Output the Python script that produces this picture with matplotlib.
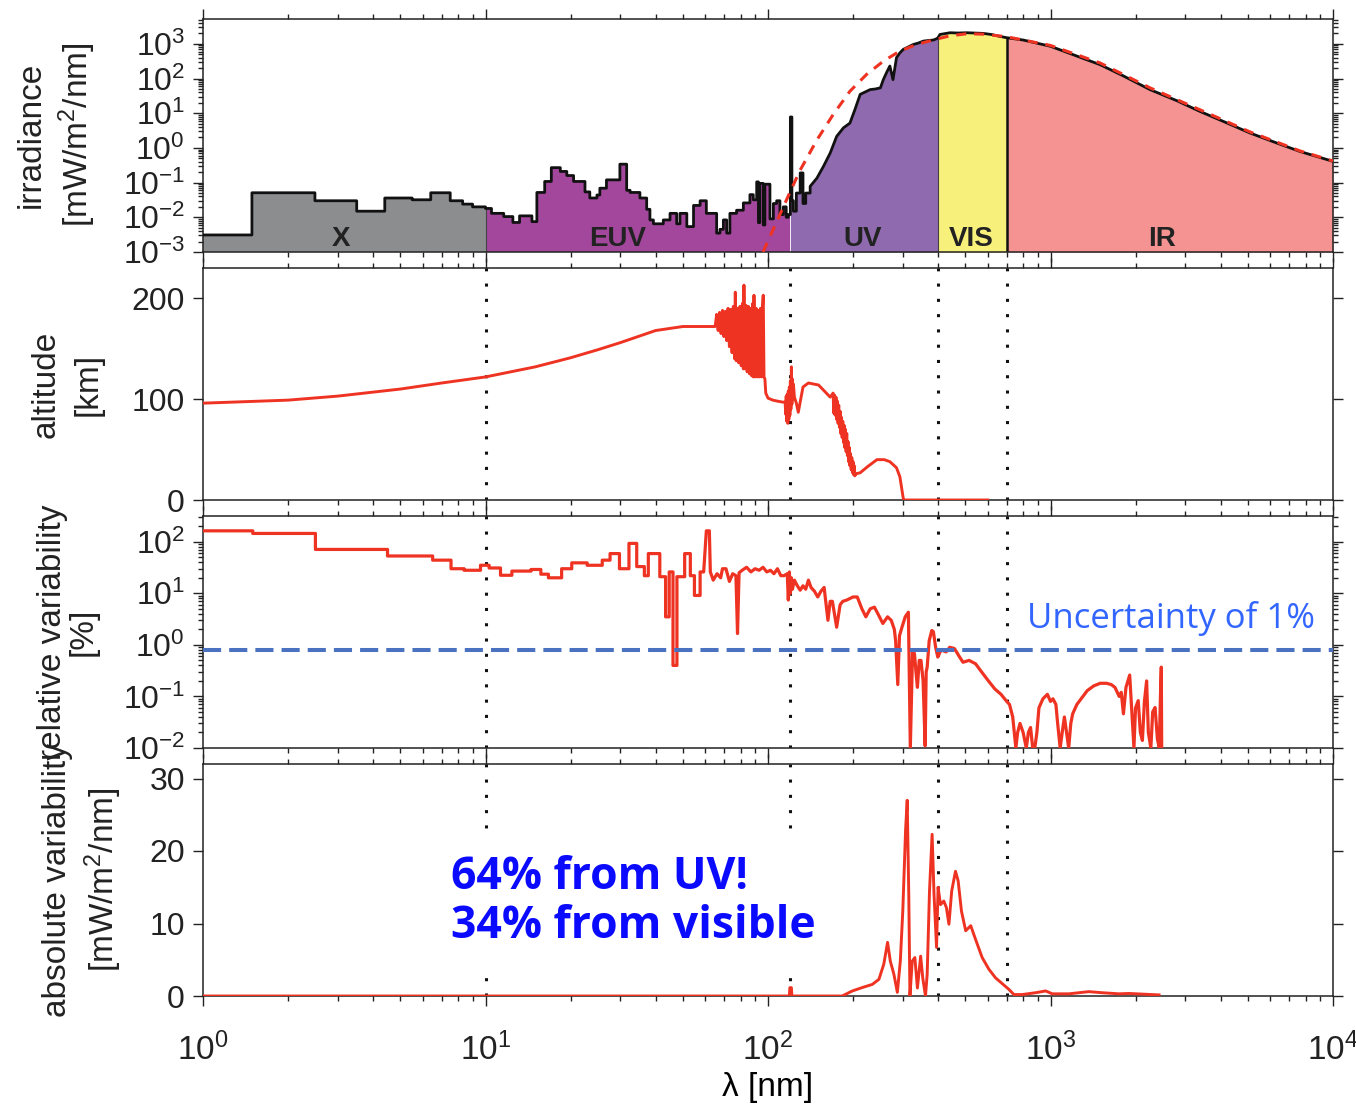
import numpy as np
import matplotlib
matplotlib.use("Agg")
import matplotlib.pyplot as plt
from matplotlib.ticker import LogLocator, NullFormatter, FixedLocator

plt.rcParams['font.family'] = ['Liberation Sans', 'DejaVu Sans']
plt.rcParams['mathtext.fontset'] = 'custom'
plt.rcParams['mathtext.rm'] = 'Liberation Sans'
plt.rcParams['mathtext.it'] = 'Liberation Sans:italic'
plt.rcParams['mathtext.bf'] = 'Liberation Sans:bold'

# ---------------- data ----------------
# spectral regions
region_names = ["X", "EUV", "UV", "VIS", "IR"]
region_edges = [1, 10, 120, 400, 700, 10000]
region_colors = ["#8c8d8f", "#a3479c", "#8f6aae", "#f7f17c", "#f59392"]
region_label_x = [3.08, 29.4, 217, 526, 2483]
boundaries = [10, 120, 400, 700]

# irradiance: X-ray bins (step)
xray_edges = [1, 1.49, 2.49, 3.5, 4.4, 5.5, 6.4, 7.5, 8.3, 9.0, 10]
xray_vals = [0.0031, 0.051, 0.030, 0.015, 0.036, 0.032, 0.051, 0.030, 0.024, 0.020]
# EUV bins (step)
euv1_edges = [10, 10.5, 11.6, 12.5, 13.2, 14.6, 15.2, 16.2, 17.1, 18.4, 19.4, 20.5, 22.5,
              23.4, 24.8, 25.4, 26.8, 29.9, 31.6, 32.5, 35.2, 37.2, 38.2]
euv1_vals = [0.018, 0.013, 0.0105, 0.0071, 0.011, 0.0075, 0.052, 0.108, 0.27, 0.21, 0.16,
             0.108, 0.054, 0.036, 0.044, 0.069, 0.12, 0.34, 0.06, 0.052, 0.036, 0.017]
euv2_edges = [38.2, 39.3, 42.6, 45, 47.5, 48.8, 51.6, 54.5, 57.5, 60.5, 65.8, 67.6, 69.5,
              71.4, 73.3, 77.4, 81.8, 86.3, 88.7, 91.2, 92.5, 93.5, 96.2, 97.5, 101.6,
              104.5, 107.3, 110.2, 113.3, 116, 118, 120, 121.5, 123, 126, 130, 133, 136, 141]
euv2_vals = [0.0084, 0.0065, 0.0084, 0.013, 0.0065, 0.013, 0.0054, 0.022, 0.03, 0.013,
             0.0035, 0.0045, 0.0084, 0.0035, 0.013, 0.016, 0.026, 0.045, 0.032, 0.105,
             0.007, 0.095, 0.006, 0.09, 0.009, 0.025, 0.03, 0.012, 0.02, 0.01, 0.012,
             7.8, 0.03, 0.015, 0.05, 0.19, 0.025, 0.05]
# UV / VIS / IR irradiance
uv_wl = [141, 149, 157, 166, 175, 185, 195, 203, 212, 222, 230, 240, 250, 256, 263, 270,
         277, 285, 293, 301, 314, 327, 340, 355, 370, 385, 395, 400]
uv_irr = [0.078, 0.135, 0.29, 0.71, 2.15, 3.8, 5.2, 12.6, 35, 42, 48, 50, 54, 93, 150, 230,
          93, 400, 550, 690, 820, 960, 1050, 1200, 1250, 1290, 1400, 1510]
vis_wl = [400, 406, 420, 441, 470, 505, 540, 578, 620, 660, 700]
vis_irr = [1510, 1860, 1950, 2090, 2050, 2090, 2050, 2000, 1850, 1650, 1500]
ir_wl = [700, 800, 1000, 1200, 1500, 1800, 2250, 2800, 3380, 4200, 5080, 6300, 7640, 10000]
ir_irr = [1500, 1290, 850, 490, 250, 122, 48, 23, 11.3, 5.3, 2.7, 1.4, 0.79, 0.41]
# blackbody reference (red dashed)
bb_wl = [96, 105, 113, 121, 130, 149, 170, 195, 223, 256, 293, 336, 385, 440, 505, 580,
         700, 1000, 1500, 2250, 3380, 5080, 7640, 10000]
bb_irr = [0.001, 0.005, 0.019, 0.065, 0.23, 1.7, 9.1, 43, 130, 316, 620, 960, 1300, 1700,
          1950, 1900, 1600, 900, 280, 54, 12.6, 2.9, 0.82, 0.42]

# altitude of unit optical depth
alt_wl = [1, 2, 3, 5, 7, 10, 15, 20, 25, 30, 40, 50, 58, 65,
          65.8, 66.6, 67.4, 68.2, 69.0, 69.8, 70.6, 71.4, 72.2, 73.0, 73.8, 74.6, 75.4,
          76.2, 76.6, 77.2, 78.0, 78.8, 79.6, 80.4, 81.2, 81.8, 82.2, 82.8, 83.6, 84.4,
          85.2, 86.0, 86.8, 87.6, 88.4, 88.8, 89.2, 90.0, 90.8, 91.6, 92.4, 93.2, 94.0,
          94.8, 95.6, 96.2, 96.8, 97.5, 98.2, 100, 104, 108, 113,
          115, 115.5, 116, 116.5, 117, 117.5, 118, 118.5, 119, 119.5, 120, 120.5, 121,
          121.5, 122, 122.5, 123, 124, 126, 128, 133, 139, 151, 166,
          170, 171, 172, 173, 174, 175, 176, 177, 178, 179, 180, 181, 182, 183, 184, 185,
          186, 187, 188, 189, 190, 191, 192, 193, 194, 195, 196, 197, 198, 199, 200, 201,
          202, 203, 205, 212, 225, 243, 258, 270, 285, 293, 298, 301, 303, 400, 600]
alt_km = [96, 99, 103, 110, 116, 122, 132, 141, 149, 156, 168, 172, 172, 172,
          184, 168, 186, 165, 188, 162, 187, 158, 190, 152, 189, 146, 192,
          140, 206, 138, 190, 136, 192, 133, 195, 130, 213, 130, 193, 127,
          192, 125, 190, 123, 195, 122, 203, 122, 190, 122, 188, 122, 190,
          122, 192, 203, 122, 120, 106, 101, 99, 98, 97,
          97, 85, 103, 78, 105, 76, 108, 80, 112, 84, 118, 90, 132,
          95, 120, 100, 115, 102, 96, 87, 112, 116, 114, 102,
          106, 86, 104, 84, 102, 80, 98, 76, 94, 72, 88, 66, 82, 62, 78, 57,
          74, 52, 70, 48, 66, 44, 58, 38, 52, 34, 46, 30, 42, 27, 38, 25,
          34, 24, 26, 27, 33, 40, 40, 38, 32, 23, 10, 2, 0, 0, 0]

# relative variability: step part then detailed part
rv_edges = [1, 1.5, 2.5, 4.5, 6.5, 7.55, 8.4, 9.6, 10.3, 11.3, 12.4, 14.5, 15.7, 16.7, 18.6,
            20.2, 22.9, 25.9, 27.6, 29.8, 32.2, 34.3, 36.5, 37.7, 41.4, 43.4, 44.7, 46.1,
            47.6, 50.7, 53.1, 54.9, 57.5, 59.2]
rv_vals = [163, 145, 71, 53, 44, 30, 28, 35, 31, 22.4, 27, 29, 23.5, 20, 30, 39, 35, 44,
           59, 30, 93, 33, 22, 59, 21, 3.5, 26, 0.4, 21, 59, 22, 9.1, 26]
rv_wl = [59.2, 60.5, 62, 62.5, 64, 66, 68, 69, 71, 73, 75, 77, 78, 79, 81, 84, 87, 90, 93,
         96, 99, 102, 105, 108, 111, 114, 117, 118, 119, 120, 121, 122, 124, 127, 130, 133,
         136, 139, 142, 146, 150, 154, 158, 163, 166, 169, 175, 180, 184, 190, 200, 207,
         215, 222, 230, 238, 245, 255, 265, 273, 280, 283, 288, 292, 298, 306, 314, 319,
         325, 330, 334, 338, 343, 348, 354, 360, 363, 366, 372, 380, 385, 392, 399, 410,
         427, 440, 457, 475, 490, 515, 543, 570, 603, 635, 668, 700, 716, 735, 754, 765,
         780, 800, 821, 835, 850, 865, 880, 895, 910, 940, 975, 1000, 1020, 1045, 1060,
         1082, 1100, 1120, 1140, 1160, 1180, 1198, 1240, 1283, 1350, 1422, 1500, 1578,
         1640, 1691, 1750, 1780, 1812, 1850, 1880, 1907, 1940, 1974, 2000, 2044, 2080,
         2115, 2150, 2189, 2220, 2266, 2300, 2345, 2390, 2427, 2450, 2467, 2475]
rv_val = [26, 163, 163, 26, 18, 24, 20, 30, 30, 17, 24, 22, 1.66, 25, 28, 32, 26, 30, 28,
          32, 26, 28, 24, 30, 22, 22, 24, 7.4, 26, 10, 20, 12, 18, 14, 11.5, 14,
          12, 18, 13, 11, 8.5, 11, 13, 3, 7, 7, 2.2, 6, 7, 7.4, 8.5, 8.5,
          5, 3.5, 5, 5.4, 4, 2.6, 3.5, 3, 2, 1.2, 0.17, 1.5, 2.2, 3.5, 4.3, 0.01,
          0.8, 0.67, 0.3, 0.15, 0.5, 0.5, 0.2, 0.011, 0.3, 0.37, 1.2, 1.9, 1.8, 0.9, 0.58, 0.8,
          0.73, 0.9, 0.85, 0.6, 0.46, 0.5, 0.43, 0.3, 0.2, 0.14, 0.11, 0.08, 0.07, 0.04, 0.01, 0.02,
          0.03, 0.02, 0.01, 0.02, 0.025, 0.01, 0.01, 0.02, 0.06, 0.09, 0.11, 0.08, 0.09, 0.07, 0.03,
          0.01, 0.02, 0.04, 0.02, 0.01, 0.03, 0.046, 0.07, 0.09, 0.13, 0.16, 0.18, 0.18,
          0.17, 0.15, 0.1, 0.12, 0.046, 0.15, 0.2, 0.26, 0.05, 0.01, 0.06, 0.083, 0.02,
          0.014, 0.08, 0.2, 0.02, 0.01, 0.05, 0.061, 0.015, 0.01, 0.1, 0.37, 0.01]
uncertainty_level = 0.8

# absolute variability
av_wl = [1, 119, 119.5, 121, 121.5, 183, 199, 215, 234, 247, 257, 265, 271, 279, 287, 294,
         300, 307, 311, 315, 318, 324, 331, 338, 347, 353, 361, 366, 373, 381, 387, 395,
         400, 408, 419, 428, 437, 447, 461, 471, 484, 501, 522, 543, 573, 605, 639, 675,
         713, 742, 794, 885, 961, 1015, 1162, 1367, 1525, 1747, 1896, 2423]
av_val = [0, 0, 1.15, 1.15, 0, 0, 0.7, 1.15, 1.6, 2.3, 4.4, 7.4, 4.8, 3.0, 0.5, 4.8,
          11.7, 23, 27, 14, 0, 4.8, 5.3, 1.1, 5.5, 2.5, 0, 3, 14.5, 22.3, 14, 6.7,
          15, 12.6, 13.1, 12.2, 9.9, 14.5, 17.2, 15.9, 11.7, 9, 9.7, 7.8, 5.3, 3.7, 2.5, 1.7,
          0.9, 0.2, 0.2, 0.45, 0.7, 0.3, 0.3, 0.6, 0.45, 0.3, 0.35, 0.15]

# ---------------- helpers ----------------
def steps(edges, vals):
    xs, ys = [], []
    for i, v in enumerate(vals):
        xs += [edges[i], edges[i + 1]]
        ys += [v, v]
    return xs, ys

RED = "#ef3323"
W, H = 1356, 1107
fig = plt.figure(figsize=(W / 100, H / 100), dpi=100)

def axes_px(top, bottom):
    return fig.add_axes([203 / W, 1 - bottom / H, 1130 / W, (bottom - top) / H])

ax1 = axes_px(19, 252)
ax2 = axes_px(268, 500)
ax3 = axes_px(516, 748)
ax4 = axes_px(764, 996)
axes = [ax1, ax2, ax3, ax4]

for ax in axes:
    ax.set_xscale('log')
    ax.set_xlim(1, 1e4)
    ax.xaxis.set_major_locator(LogLocator(base=10, numticks=10))
    ax.xaxis.set_minor_locator(LogLocator(base=10, subs=np.arange(2, 10), numticks=50))
    ax.xaxis.set_minor_formatter(NullFormatter())
    ax.tick_params(which='both', direction='out', top=True, right=True,
                   width=1.0, colors='#222222')
    ax.tick_params(axis='y', labelsize=23, pad=6)
    ax.tick_params(axis='x', labelsize=24, pad=19)
    ax.tick_params(which='major', length=7)
    ax.tick_params(which='minor', length=3.5)
    for s in ax.spines.values():
        s.set_linewidth(1.1)
        s.set_color('#222222')
    if ax is not ax4:
        ax.tick_params(labelbottom=False)

# ---- panel 1: irradiance ----
xs, ys = steps(xray_edges, xray_vals)
a, b = steps(euv1_edges, euv1_vals); xs += a; ys += b
a, b = steps(euv2_edges, euv2_vals); xs += a; ys += b
xs += uv_wl + vis_wl + ir_wl
ys += uv_irr + vis_irr + ir_irr
xs = np.array(xs, dtype=float); ys = np.array(ys, dtype=float)

for i, col in enumerate(region_colors):
    lo, hi = region_edges[i], region_edges[i + 1]
    m = (xs >= lo) & (xs <= hi)
    ax1.fill_between(xs[m], ys[m], 1e-3, color=col, lw=0, zorder=1)
ax1.plot(xs, ys, color='#111111', lw=2.0, zorder=3)
ax1.plot(bb_wl, bb_irr, color=RED, lw=2.2, ls=(0, (3.3, 2.6)), zorder=4)
for bnd in [10, 400]:
    top = np.interp(bnd, xs, ys)
    ax1.plot([bnd, bnd], [1e-3, top], color='#444444', lw=0.8, zorder=2)
ax1.plot([700, 700], [1e-3, np.interp(700, ir_wl, ir_irr)], color='#111111', lw=1.8, zorder=2)
for name, lx in zip(region_names, region_label_x):
    ax1.text(lx, 1.5e-3, name, ha='center', va='baseline', fontsize=20,
             fontweight='bold', color='#222222', zorder=5)
ax1.set_yscale('log')
ax1.set_ylim(1e-3, 5.2e3)
ax1.yaxis.set_major_locator(LogLocator(base=10, numticks=20))
ax1.yaxis.set_minor_locator(LogLocator(base=10, subs=np.arange(2, 10), numticks=100))
ax1.yaxis.set_minor_formatter(NullFormatter())

# ---- panel 2: altitude ----
ax2.plot(alt_wl, alt_km, color=RED, lw=2.1, zorder=3)
ax2.set_ylim(0, 230)
ax2.yaxis.set_major_locator(FixedLocator([0, 100, 200]))

# ---- panel 3: relative variability ----
a, b = steps(rv_edges, rv_vals)
ax3.plot(a + rv_wl, b + rv_val, color=RED, lw=2.3, zorder=3)
ax3.axhline(uncertainty_level, color='#4a72c0', lw=2.9, ls=(0, (4.5, 2.0)), zorder=4)
ax3.set_yscale('log')
ax3.set_ylim(1e-2, 316)
ax3.yaxis.set_major_locator(LogLocator(base=10, numticks=20))
ax3.yaxis.set_minor_locator(LogLocator(base=10, subs=np.arange(2, 10), numticks=100))
ax3.yaxis.set_minor_formatter(NullFormatter())
ax3.text(0.729, 0.517, "Uncertainty of 1%", transform=ax3.transAxes, ha='left',
         va='baseline', fontsize=25, family=['Open Sans', 'DejaVu Sans'],
         color='#3366ff', zorder=6)

# ---- panel 4: absolute variability ----
ax4.plot(av_wl, av_val, color=RED, lw=2.1, zorder=3)
ax4.set_ylim(0, 32)
ax4.yaxis.set_major_locator(FixedLocator([0, 10, 20, 30]))
ax4.text(0.2195, 0.405, "64% from UV!\n34% from visible", transform=ax4.transAxes,
         ha='left', va='center', fontsize=32, fontweight='bold', linespacing=1.12,
         family=['Open Sans', 'DejaVu Sans'], color='#0a0aff', zorder=6,
         bbox=dict(boxstyle='square,pad=0.4', facecolor='white', edgecolor='none'))
ax4.set_xlabel("λ [nm]", fontsize=24, labelpad=4)

# vertical dotted boundaries
for ax in [ax2, ax3, ax4]:
    for bnd in boundaries:
        ax.axvline(bnd, color='#111111', lw=2.2, ls=(0, (1, 4)), zorder=2)

# y labels
def ylab(x, y, s):
    fig.text(x / W, 1 - y / H, s, rotation=90, ha='center', va='center', fontsize=24,
             color='#222222')

ylab(31, 135, "irradiance")
ylab(77, 135, "[mW/m$^2$/nm]")
ylab(46, 384, "altitude")
ylab(88, 384, "[km]")
ylab(52, 632, "relative variability")
ylab(83, 632, "[%]")
ylab(58, 880, "absolute variability")
ylab(103, 880, "[mW/m$^2$/nm]")

fig.savefig("out.png", dpi=100)
